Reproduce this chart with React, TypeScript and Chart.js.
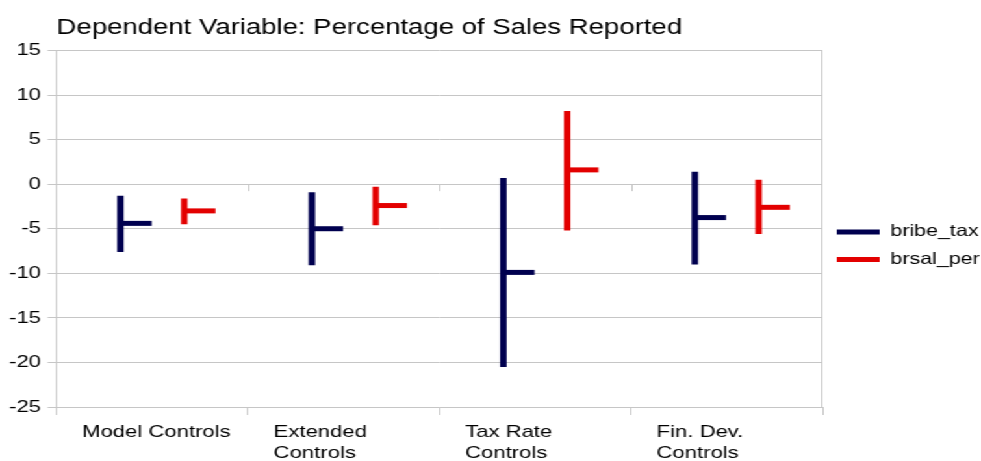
import React, { useEffect, useRef } from "react";
import { Chart, registerables } from "chart.js";

Chart.register(...registerables);

const categories: string[][] = [
  ["Model Controls"],
  ["Extended", "Controls"],
  ["Tax Rate", "Controls"],
  ["Fin. Dev.", "Controls"],
];

const bribeHigh = [-1.3, -0.9, 0.7, 1.4];
const bribeLow = [-7.6, -9.1, -20.5, -9.0];
const bribeClose = [-4.4, -5.0, -9.9, -3.75];

const brsalHigh = [-1.6, -0.3, 8.2, 0.5];
const brsalLow = [-4.5, -4.6, -5.2, -5.6];
const brsalClose = [-3.0, -2.4, 1.6, -2.6];

const yTicks = [15, 10, 5, 0, -5, -10, -15, -20, -25];

const NAVY = "#00004f";
const RED = "#e30000";
const GRID = "#c6c6c6";
const FONT = "'Liberation Sans', Arial, sans-serif";

const STRETCH = 981 / 755;

const closePlugin = {
  id: "closeTicks",
  afterDatasetsDraw(chart: any) {
    const ctx = chart.ctx;
    const xs = chart.scales.x;
    const ys = chart.scales.y;
    const catW = xs.width / categories.length;
    const tickLen = catW * 0.163;
    const closes = [bribeClose, brsalClose];
    const colors = [NAVY, RED];
    ctx.save();
    // small x-axis tick marks at value 0
    const y0 = ys.getPixelForValue(0);
    ctx.strokeStyle = GRID;
    ctx.lineWidth = 1;
    for (let i = 1; i < categories.length; i++) {
      const bx = Math.round((xs.getPixelForValue(i - 1) + xs.getPixelForValue(i)) / 2) + 0.5;
      ctx.beginPath();
      ctx.moveTo(bx, y0);
      ctx.lineTo(bx, y0 + 7);
      ctx.stroke();
    }
    // right border
    ctx.beginPath();
    const rx = Math.round(chart.chartArea.right) - 0.5;
    ctx.moveTo(rx, chart.chartArea.top);
    ctx.lineTo(rx, chart.chartArea.bottom);
    ctx.stroke();
    // close ticks
    ctx.lineWidth = 5;
    ctx.lineCap = "butt";
    closes.forEach((arr, d) => {
      const meta = chart.getDatasetMeta(d);
      ctx.strokeStyle = colors[d];
      meta.data.forEach((el: any, i: number) => {
        const y = ys.getPixelForValue(arr[i]);
        ctx.beginPath();
        ctx.moveTo(el.x, y);
        ctx.lineTo(el.x + tickLen, y);
        ctx.stroke();
      });
    });
    ctx.restore();
  },
};

export default function App() {
  const ref = useRef<HTMLCanvasElement>(null);
  useEffect(() => {
    if (!ref.current) return;
    const chart = new Chart(ref.current, {
      type: "bar",
      data: {
        labels: categories,
        datasets: [
          {
            label: "bribe_tax",
            data: bribeHigh.map((h, i) => [bribeLow[i], h]),
            backgroundColor: NAVY,
            borderWidth: 0,
            maxBarThickness: 5,
            barPercentage: 0.5,
            categoryPercentage: 2 / 3,
          },
          {
            label: "brsal_per",
            data: brsalHigh.map((h, i) => [brsalLow[i], h]),
            backgroundColor: RED,
            borderWidth: 0,
            maxBarThickness: 5,
            barPercentage: 0.5,
            categoryPercentage: 2 / 3,
          },
        ],
      },
      options: {
        animation: false,
        responsive: true,
        maintainAspectRatio: false,
        layout: { padding: { left: 2, right: 0, top: 0, bottom: 0 } },
        plugins: {
          tooltip: { enabled: false },
          title: {
            display: true,
            text: "Dependent Variable: Percentage of Sales Reported",
            align: "start",
            fullSize: false,
            color: "#000",
            font: { family: FONT, size: 21.2, weight: "normal" },
            padding: { top: 15, bottom: 10 },
          },
          legend: {
            position: "right",
            align: "center",
            maxWidth: 122,
            title: {
              display: true,
              text: " ",
              font: { family: FONT, size: 12 },
              padding: { top: 8, bottom: 8 },
            },
            labels: {
              boxWidth: 33,
              boxHeight: 5,
              padding: 11,
              color: "#000",
              font: { family: FONT, size: 16.5 },
            },
          },
        },
        scales: {
          x: {
            offset: true,
            afterFit: (axis: any) => {
              axis.height = 54;
            },
            grid: {
              offset: true,
              drawOnChartArea: false,
              color: GRID,
              tickLength: 8,
            },
            border: { display: true, color: GRID },
            ticks: {
              color: "#000",
              padding: 7,
              align: "start",
              labelOffset: -54,
              maxRotation: 0,
              autoSkip: false,
              font: { family: FONT, size: 17, lineHeight: 1.22 },
            },
          },
          y: {
            min: -25,
            max: 15,
            afterBuildTicks: (axis: any) => {
              axis.ticks = yTicks.map((v) => ({ value: v }));
            },
            grid: { color: GRID, tickLength: 7 },
            border: { display: true, color: GRID },
            ticks: {
              color: "#000",
              padding: 5,
              font: { family: FONT, size: 17 },
            },
          },
        },
      },
      plugins: [closePlugin],
    } as any);
    return () => chart.destroy();
  }, []);
  return (
    <div
      style={{
        position: "fixed",
        left: 0,
        top: 0,
        width: 755,
        height: 461,
        transform: `scaleX(${STRETCH})`,
        transformOrigin: "0 0",
        background: "#fff",
      }}
    >
      <canvas ref={ref} style={{ width: "100%", height: "100%" }} />
    </div>
  );
}
